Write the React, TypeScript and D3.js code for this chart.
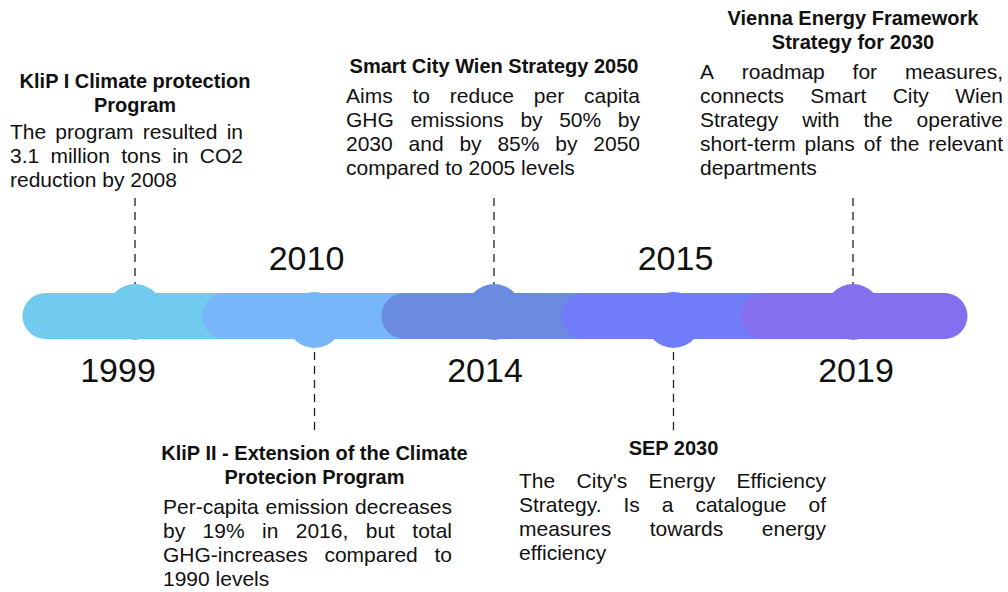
import React from "react";
import * as d3 from "d3";

// timeline data
const years = ["1999", "2010", "2014", "2015", "2019"];
const sides = ["top", "bottom", "top", "bottom", "top"];
const colors = ["#70CBEF", "#77B6F8", "#6A8BDF", "#717CF9", "#8470EF"];
const titles = [
  ["KliP I  Climate protection", "Program"],
  ["KliP II - Extension of the Climate", "Protecion Program"],
  ["Smart City Wien Strategy 2050"],
  ["SEP 2030"],
  ["Vienna Energy Framework", "Strategy for 2030"],
];
const descriptions = [
  ["The program resulted in", "3.1 million tons in CO2", "reduction by 2008"],
  ["Per-capita emission decreases", "by 19% in 2016, but total", "GHG-increases compared to", "1990 levels"],
  ["Aims to reduce per capita", "GHG emissions by 50% by", "2030 and by 85% by 2050", "compared to 2005 levels"],
  ["The City's Energy Efficiency", "Strategy. Is a catalogue of", "measures towards energy", "efficiency"],
  ["A roadmap for measures,", "connects Smart City Wien", "Strategy with the operative", "short-term plans of the relevant", "departments"],
];

// text layout (first title baseline, first body baseline, body box)
const titleY = [88, 460, 73, 455, 25];
const bodyY = [139, 514, 103, 488, 79];
const boxLeft = [10, 163, 346, 519, 700];
const boxWidth = [233, 289, 294, 307, 303];
const yearDx = [-17, -8, -9, 2, 3];

const W = 1008;
const H = 592;
const barY = 316;
const barH = 46;
const pillW = 227;
const bumpR = 28;
const lineH = 24;
const bodyFont = 21;
const FONT = "'Liberation Sans', Arial, sans-serif";

const canvas = typeof document !== "undefined" ? document.createElement("canvas") : null;
const measure = (s, size, bold = false) => {
  if (!canvas) return s.length * size * 0.5;
  const ctx = canvas.getContext("2d");
  ctx.font = `${bold ? "bold " : ""}${size}px "Liberation Sans"`;
  return ctx.measureText(s).width;
};

function JustifiedLine({ text, x, y, width, justify }) {
  if (!justify) {
    return <text x={x} y={y}>{text}</text>;
  }
  const words = text.split(" ");
  const widths = words.map((w) => measure(w, bodyFont));
  const gap = (width - d3.sum(widths)) / (words.length - 1);
  let cx = x;
  return (
    <g>
      {words.map((w, i) => {
        const el = <text key={i} x={cx} y={y}>{w}</text>;
        cx += widths[i] + gap;
        return el;
      })}
    </g>
  );
}

export default function App() {
  const x = d3.scaleLinear().domain([0, years.length - 1]).range([135, 853]);

  return (
    <svg width={W} height={H} style={{ position: "absolute", left: 0, top: 0 }} fontFamily={FONT}>
      <rect width={W} height={H} fill="#fff" />
      {years.map((yr, i) => {
        const cx = x(i);
        const top = sides[i] === "top";
        return (
          <g key={yr}>
            <circle cx={cx} cy={top ? barY - 4 : barY + 4} r={bumpR} fill={colors[i]} />
            <rect
              x={cx + 1 - pillW / 2}
              y={barY - barH / 2}
              width={pillW}
              height={barH}
              rx={barH / 2}
              fill={colors[i]}
            />
          </g>
        );
      })}
      {years.map((yr, i) => {
        const cx = x(i);
        const top = sides[i] === "top";
        const y1 = top ? 198 : barY + 4 + bumpR + 4;
        const y2 = top ? barY - 4 - bumpR : 432;
        return (
          <g key={"t" + yr}>
            <line x1={cx} x2={cx} y1={y1} y2={y2} stroke="#222" strokeWidth={1.3} strokeDasharray="8,6" />
            <text
              x={cx + yearDx[i]}
              y={top ? 382 : 270}
              textAnchor="middle"
              fontSize={34}
              fill="#111"
            >
              {yr}
            </text>
            {titles[i].map((t, j) => (
              <text
                key={j}
                x={cx}
                y={titleY[i] + j * 23.5}
                textAnchor="middle"
                fontSize={20}
                fontWeight="bold"
                fill="#111"
              >
                {t}
              </text>
            ))}
            <g fontSize={bodyFont} fill="#111">
              {descriptions[i].map((line, j) => (
                <JustifiedLine
                  key={j}
                  text={line}
                  x={boxLeft[i]}
                  y={bodyY[i] + j * lineH}
                  width={boxWidth[i]}
                  justify={j < descriptions[i].length - 1}
                />
              ))}
            </g>
          </g>
        );
      })}
    </svg>
  );
}
